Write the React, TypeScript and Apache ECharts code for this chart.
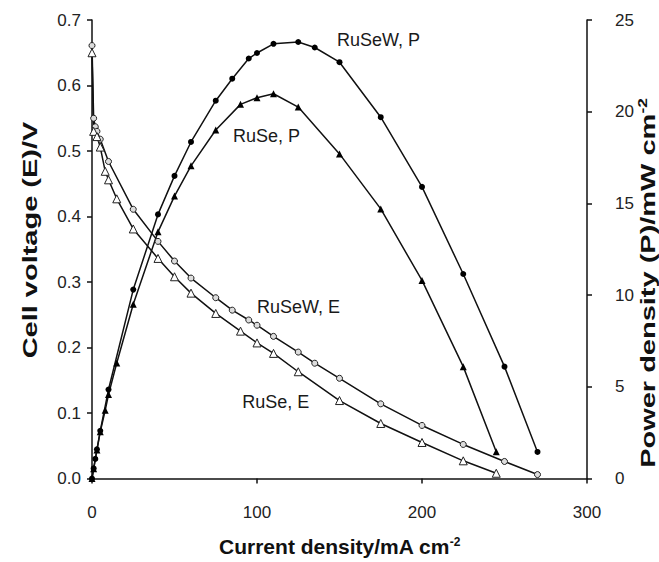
import React, { useEffect, useRef } from "react";
import * as echarts from "echarts";

// Current density (mA cm^-2)
const ruSeWCurrent = [0, 1, 2, 3, 5, 10, 25, 40, 50, 60, 75, 85, 95, 100, 110, 125, 135, 150, 175, 200, 225, 250, 270];
const ruSeWVoltage = [0.661, 0.55, 0.537, 0.53, 0.518, 0.484, 0.411, 0.362, 0.332, 0.306, 0.276, 0.257, 0.242, 0.234, 0.217, 0.193, 0.176, 0.153, 0.114, 0.081, 0.052, 0.026, 0.006];
const ruSeWPower = [0, 0.55, 1.07, 1.59, 2.6, 4.85, 10.3, 14.4, 16.5, 18.35, 20.6, 21.8, 22.9, 23.2, 23.7, 23.8, 23.5, 22.7, 19.7, 15.9, 11.15, 6.1, 1.45];

const ruSeCurrent = [0, 1, 3, 5, 8, 10, 15, 25, 40, 50, 60, 75, 90, 100, 110, 125, 150, 175, 200, 225, 245];
const ruSeVoltage = [0.65, 0.53, 0.522, 0.506, 0.469, 0.456, 0.427, 0.381, 0.336, 0.308, 0.283, 0.252, 0.225, 0.207, 0.191, 0.163, 0.119, 0.084, 0.055, 0.027, 0.008];
const ruSePower = [0, 0.53, 1.55, 2.55, 3.72, 4.58, 6.3, 9.5, 13.45, 15.4, 17.05, 19.0, 20.4, 20.76, 20.98, 20.25, 17.7, 14.7, 10.8, 6.1, 1.46];

// Curve labels: [text, current, value, axis (0 = E, 1 = P)]
const curveLabels: [string, number, number, number][] = [
  ["RuSeW, P", 148.5, 23.9, 1],
  ["RuSe, P", 85.5, 18.7, 1],
  ["RuSeW, E", 100, 0.262, 0],
  ["RuSe, E", 91, 0.117, 0],
];

const FONT = "'Liberation Sans', Arial, sans-serif";
const INK = "#111";

const zip = (xs: number[], ys: number[]) => xs.map((x, i) => [x, ys[i]]);

export default function App() {
  const ref = useRef<HTMLDivElement>(null);
  useEffect(() => {
    if (!ref.current) return;
    const chart = echarts.init(ref.current, undefined, { renderer: "svg" });
    const lineBase = {
      type: "line" as const,
      smooth: false,
      lineStyle: { color: INK, width: 1.5 },
      z: 3,
    };
    const labelStyle = {
      show: true,
      position: "right" as const,
      distance: 0,
      formatter: (p: any) => p.name,
      fontSize: 18,
      color: "#1a1a1a",
      fontFamily: FONT,
    };
    chart.setOption({
      animation: false,
      backgroundColor: "#fff",
      textStyle: { fontFamily: FONT },
      grid: { left: 92, right: 72, top: 20, bottom: 80 },
      xAxis: {
        type: "value",
        min: 0,
        max: 300,
        interval: 100,
        splitLine: { show: false },
        axisLine: { lineStyle: { color: INK, width: 1.5 } },
        axisTick: { inside: false, length: 5, lineStyle: { color: INK, width: 1.5 } },
        axisLabel: { fontSize: 17, color: "#222", margin: 25, fontFamily: FONT },
        name: "Current density/mA cm{sup|-2}",
        nameLocation: "middle",
        nameGap: 57,
        nameTextStyle: {
          fontSize: 21,
          fontWeight: "bold",
          color: "#111",
          fontFamily: FONT,
          rich: {
            sup: { fontSize: 12, fontWeight: "bold", color: "#111", verticalAlign: "top", fontFamily: FONT, padding: [0, 0, 10, 0] },
          },
        },
      },
      yAxis: [
        {
          type: "value",
          min: 0,
          max: 0.7,
          interval: 0.1,
          splitLine: { show: false },
          axisLine: { show: true, lineStyle: { color: INK, width: 1.5 } },
          axisTick: { show: true, length: 5, lineStyle: { color: INK, width: 1.5 } },
          axisLabel: { fontSize: 17, color: "#222", margin: 11, fontFamily: FONT, formatter: (v: number) => v.toFixed(1) },
        },
        {
          type: "value",
          position: "right",
          min: 0,
          max: 25,
          interval: 5,
          splitLine: { show: false },
          axisLine: { show: true, lineStyle: { color: INK, width: 1.5 } },
          axisTick: { show: true, length: 5, lineStyle: { color: INK, width: 1.5 } },
          axisLabel: { fontSize: 17, color: "#222", margin: 28, fontFamily: FONT },
        },
      ],
      graphic: [
        {
          type: "text",
          x: 30,
          y: 240,
          rotation: Math.PI / 2,
          scaleX: 1.45,
          style: {
            text: "Cell voltage (E)/V",
            fontSize: 20,
            fontWeight: "bold",
            fontFamily: FONT,
            fill: "#111",
            align: "center",
            verticalAlign: "middle",
          },
        },
        {
          type: "text",
          x: 648,
          y: 283,
          rotation: Math.PI / 2,
          scaleX: 1.45,
          style: {
            text: "Power density (P)/mW cm{sup|-2}",
            fontSize: 20,
            fontWeight: "bold",
            fontFamily: FONT,
            fill: "#111",
            align: "center",
            verticalAlign: "middle",
            rich: {
              sup: { fontSize: 12, fontWeight: "bold", fontFamily: FONT, fill: "#111", verticalAlign: "top", padding: [0, 0, 10, 0] },
            },
          },
        },
      ],
      series: [
        {
          ...lineBase,
          name: "RuSeW, E",
          yAxisIndex: 0,
          data: zip(ruSeWCurrent, ruSeWVoltage),
          symbol: "circle",
          symbolSize: 6,
          itemStyle: { color: "#ddd", borderColor: "#222", borderWidth: 1 },
        },
        {
          ...lineBase,
          name: "RuSe, E",
          yAxisIndex: 0,
          data: zip(ruSeCurrent, ruSeVoltage),
          symbol: "triangle",
          symbolSize: 8,
          itemStyle: { color: "#fff", borderColor: "#222", borderWidth: 1 },
        },
        {
          ...lineBase,
          name: "RuSeW, P",
          yAxisIndex: 1,
          data: zip(ruSeWCurrent, ruSeWPower),
          symbol: "circle",
          symbolSize: 6,
          itemStyle: { color: "#000", borderColor: "#000", borderWidth: 0 },
        },
        {
          ...lineBase,
          name: "RuSe, P",
          yAxisIndex: 1,
          data: zip(ruSeCurrent, ruSePower),
          symbol: "triangle",
          symbolSize: 7,
          itemStyle: { color: "#000", borderColor: "#000", borderWidth: 0 },
        },
        {
          type: "scatter",
          name: "labels-E",
          yAxisIndex: 0,
          symbolSize: 0,
          silent: true,
          itemStyle: { opacity: 1 },
          data: curveLabels.filter((l) => l[3] === 0).map((l) => ({ value: [l[1], l[2]], name: l[0] })),
          label: labelStyle,
        },
        {
          type: "scatter",
          name: "labels-P",
          yAxisIndex: 1,
          symbolSize: 0,
          silent: true,
          itemStyle: { opacity: 1 },
          data: curveLabels.filter((l) => l[3] === 1).map((l) => ({ value: [l[1], l[2]], name: l[0] })),
          label: labelStyle,
        },
      ],
    });
    return () => chart.dispose();
  }, []);
  return (
    <div
      ref={ref}
      style={{ position: "fixed", left: 0, top: 0, width: 659, height: 562, background: "#fff" }}
    />
  );
}
